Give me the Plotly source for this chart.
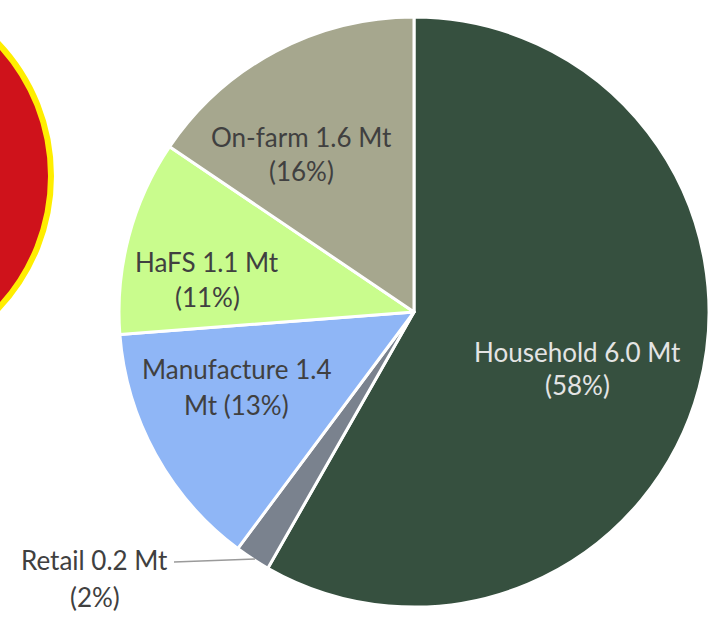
import plotly.graph_objects as go

W, H = 711, 617

# data
sectors = ["Household", "Retail", "Manufacture", "HaFS", "On-farm"]
tonnes_mt = [6.0, 0.2, 1.4, 1.1, 1.6]
shares_pct = [58, 2, 13, 11, 16]
colors = ["#36503f", "#7a828e", "#8fb6f6", "#c9fc8d", "#a6a78e"]


def px_x(x):
    return x / W


def px_y(y):
    return 1 - y / H


fig = go.Figure()

fig.add_trace(go.Pie(
    labels=sectors,
    values=tonnes_mt,
    sort=False,
    direction="clockwise",
    rotation=0,
    textinfo="none",
    hoverinfo="label+value+percent",
    marker=dict(colors=colors, line=dict(color="white", width=3)),
    domain=dict(x=[px_x(119), px_x(709)], y=[px_y(607), px_y(17)]),
    showlegend=False,
))

# decorative red badge, cut off at the left edge
fig.add_shape(type="circle", xref="paper", yref="paper",
              x0=px_x(-336), x1=px_x(51), y0=px_y(369), y1=px_y(-17),
              fillcolor="#cf121b", line=dict(color="#ffee00", width=6),
              layer="below")

# label line centres (pixels): x, first line y, second line y
label_pos = {
    "Household": (577, 352, 385),
    "Manufacture": (236, 369, 405),
    "HaFS": (207, 262, 297),
    "On-farm": (301, 137, 171),
    "Retail": (95, 560, 597),
}

for name, val, pct in zip(sectors, tonnes_mt, shares_pct):
    cx, y1, y2 = label_pos[name]
    if name == "Manufacture":
        lines = [f"{name} {val:.1f}", f"Mt ({pct}%)"]
    else:
        lines = [f"{name} {val:.1f} Mt", f"({pct}%)"]
    col = "#e4e4e4" if name == "Household" else "#404040"
    for txt, yy in zip(lines, (y1, y2)):
        fig.add_annotation(x=px_x(cx), y=px_y(yy), xref="paper", yref="paper",
                           text=txt, showarrow=False, xanchor="center", yanchor="middle",
                           font=dict(family="Lato", size=26, color=col))

# leader line for Retail
fig.add_shape(type="line", xref="paper", yref="paper",
              x0=px_x(174), y0=px_y(562), x1=px_x(255), y1=px_y(559),
              line=dict(color="#9a9a9a", width=1.5))

fig.update_layout(
    width=W, height=H,
    margin=dict(l=0, r=0, t=0, b=0),
    paper_bgcolor="white",
    plot_bgcolor="white",
)

# drop the browser's default body margin so the figure sits at the page corner
fig.write_html("out.html", config={"displayModeBar": False},
               post_script="document.body.style.margin='0';")
